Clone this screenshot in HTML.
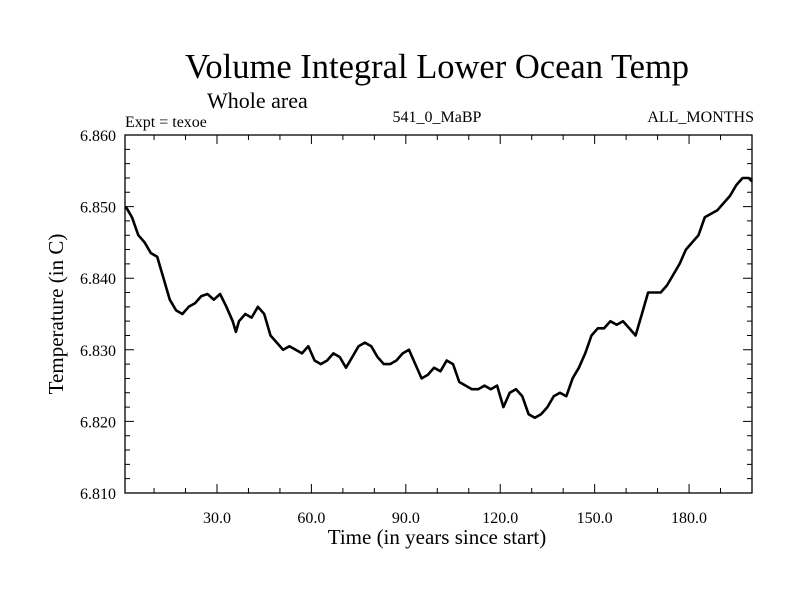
<!DOCTYPE html>
<html><head><meta charset="utf-8"><style>
body{margin:0;background:#fff}
svg text{font-family:"Liberation Serif",serif;fill:#000}
</style></head><body>
<svg id="c" width="800" height="600">
<text x="437" y="78" font-size="34.5" text-anchor="middle">Volume Integral Lower Ocean Temp</text>
<text x="207" y="108" font-size="22">Whole area</text>
<text x="125" y="127" font-size="16">Expt = texoe</text>
<text x="437" y="122" font-size="16" text-anchor="middle">541_0_MaBP</text>
<text x="754" y="122" font-size="16" text-anchor="end">ALL_MONTHS</text>
<text x="437" y="544" font-size="21" text-anchor="middle">Time (in years since start)</text>
<text transform="translate(63,314) rotate(-90)" font-size="21" text-anchor="middle">Temperature (in C)</text>
<g id="axes"></g>
<path id="line" fill="none" stroke="#000" stroke-width="2.6" stroke-linejoin="round"></path>
</svg>
<script>
const years=[1,3,5,7,9,11,13,15,17,19,21,23,25,27,29,31,33,35,36,37,39,41,43,45,47,49,51,53,55,57,59,61,63,65,67,69,71,73,75,77,79,81,83,85,87,89,91,93,95,97,99,101,103,105,107,109,111,113,115,117,119,121,123,125,127,129,131,133,135,137,139,141,143,145,147,149,151,153,155,157,159,161,163,165,167,169,171,173,175,177,179,181,183,185,187,189,191,193,195,197,199,200];
const temps=[6.850,6.8485,6.846,6.845,6.8435,6.843,6.840,6.837,6.8355,6.835,6.836,6.8365,6.8375,6.8378,6.837,6.8378,6.836,6.834,6.8325,6.834,6.835,6.8345,6.836,6.835,6.832,6.831,6.830,6.8305,6.830,6.8295,6.8305,6.8285,6.828,6.8285,6.8295,6.829,6.8275,6.829,6.8305,6.831,6.8305,6.829,6.828,6.828,6.8285,6.8295,6.830,6.828,6.826,6.8265,6.8275,6.827,6.8285,6.828,6.8255,6.825,6.8245,6.8245,6.825,6.8245,6.825,6.822,6.824,6.8245,6.8235,6.821,6.8205,6.821,6.822,6.8235,6.824,6.8235,6.826,6.8275,6.8295,6.832,6.833,6.833,6.834,6.8335,6.834,6.833,6.832,6.835,6.838,6.838,6.838,6.839,6.8405,6.842,6.844,6.845,6.846,6.8485,6.849,6.8495,6.8505,6.8515,6.853,6.854,6.854,6.8535];
const xTickLabels=["30.0","60.0","90.0","120.0","150.0","180.0"];
const yTickLabels=["6.810","6.820","6.830","6.840","6.850","6.860"];
const L=125,R=752,T=135,B=493,X0=0.77,X1=200,Y0=6.810,Y1=6.860;
const sx=t=>L+(t-X0)/(X1-X0)*(R-L);
const sy=v=>B-(v-Y0)/(Y1-Y0)*(B-T);
const NS="http://www.w3.org/2000/svg";
const ax=document.getElementById('axes');
function mk(tag,attrs,name){const e=document.createElementNS(NS,tag);for(const k in attrs)e.setAttribute(k,attrs[k]);


ax.appendChild(e);return e;}
mk('rect',{x:L,y:T,width:R-L,height:B-T,fill:'none',stroke:'#000','stroke-width':1.3},'plot-frame');
let d='';
for(let t=10;t<200;t+=10){const x=sx(t),len=t%30===0?9:5;
d+=`M${x},${B}v${-len}M${x},${T}v${len}`;}
for(let i=0;i<=25;i++){const v=Y0+i*0.002,y=sy(v),len=i%5===0?9:5;
d+=`M${L},${y}h${len}M${R},${y}h${-len}`;}
mk('path',{d:d,stroke:'#000','stroke-width':1,fill:'none'},'tick-marks');
xTickLabels.forEach(s=>{const e=mk('text',{x:sx(parseFloat(s)),y:B+30,'font-size':16,'text-anchor':'middle'},'x-tick-label');e.textContent=s;});
yTickLabels.forEach(s=>{const e=mk('text',{x:L-9,y:sy(parseFloat(s))+6,'font-size':16,'text-anchor':'end'},'y-tick-label');e.textContent=s;});
document.getElementById('line').setAttribute('d',years.map((t,i)=>(i?'L':'M')+sx(t).toFixed(1)+','+sy(temps[i]).toFixed(1)).join(''));
</script>
</body></html>
